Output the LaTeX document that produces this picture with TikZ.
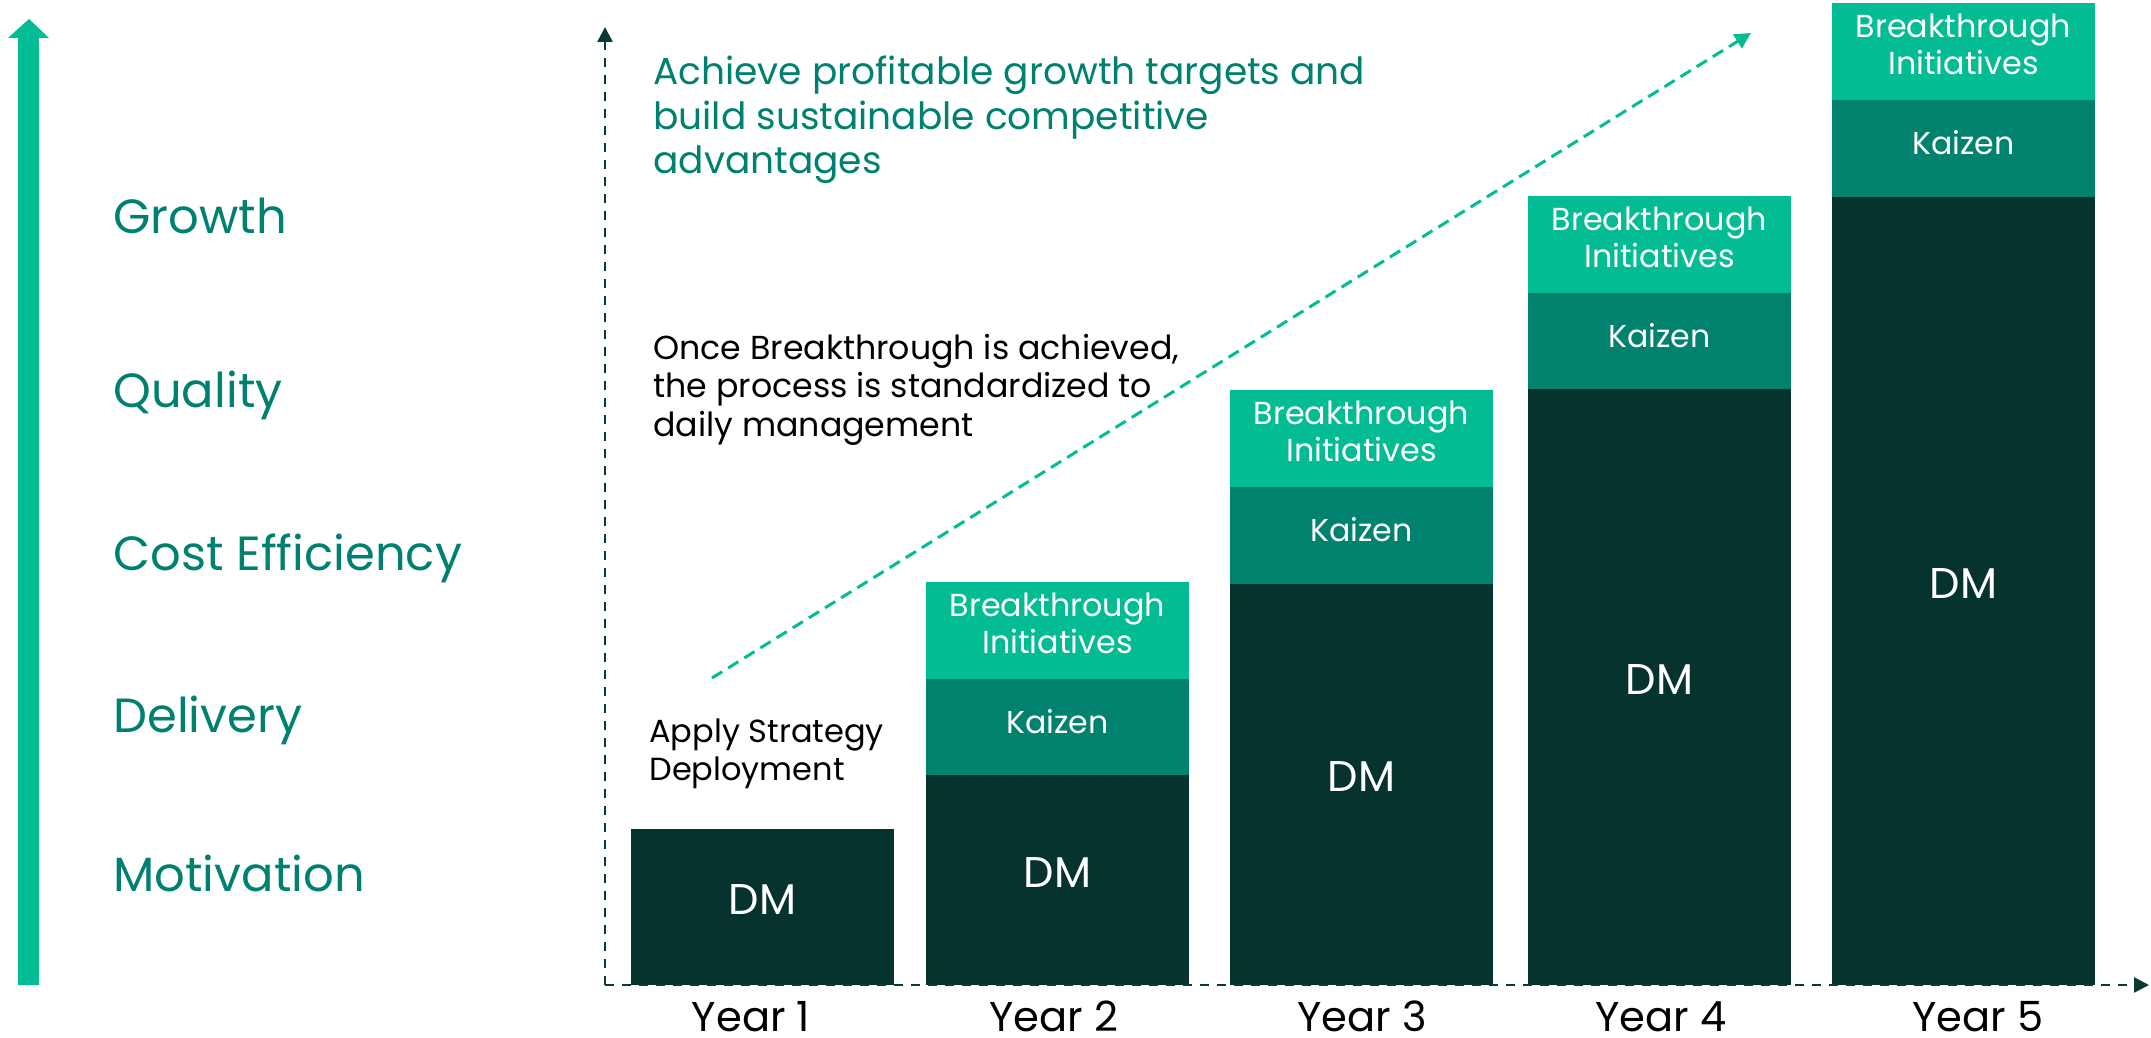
\documentclass[tikz,border=0pt]{standalone}
\usepackage{fontspec}
\setmainfont{Poppins}
\usetikzlibrary{arrows.meta}
\definecolor{brightg}{HTML}{03BC93}
\definecolor{tealg}{HTML}{00826F}
\definecolor{darkg}{HTML}{06332E}
\definecolor{txtg}{HTML}{00806E}
\definecolor{axisc}{HTML}{0B3A35}
\begin{document}
\begin{tikzpicture}[x=0.5pt,y=-0.5pt,
  seg/.style={rectangle, inner sep=0pt, outer sep=0pt, minimum width=131.5pt, anchor=north west},
  bi/.style={seg, fill=brightg, minimum height=48.5pt},
  kz/.style={seg, fill=tealg, minimum height=48.5pt},
  dmseg/.style={seg, fill=darkg},
  bitxt/.style={text=white, font=\fontsize{15.9pt}{18.5pt}\selectfont, align=center, anchor=base, inner sep=0pt, yshift=-11.5pt},
  kztxt/.style={text=white, font=\fontsize{15.8pt}{18.5pt}\selectfont, anchor=base, inner sep=0pt, yshift=-3pt},
  dmtxt/.style={text=white, font=\fontsize{21.5pt}{25pt}\selectfont, anchor=base, inner sep=0pt, yshift=-3.6pt},
  yeartxt/.style={text=black, font=\fontsize{20.8pt}{24pt}\selectfont, anchor=base, inner sep=0pt},
  dimtxt/.style={text=txtg, font=\fontsize{24pt}{28pt}\selectfont, anchor=base west, inner sep=0pt},
  note/.style={text=black, font=\fontsize{16.6pt}{19.2pt}\selectfont, align=left, anchor=base west, inner sep=0pt},
  applynote/.style={text=black, font=\fontsize{16pt}{19pt}\selectfont, align=left, anchor=base west, inner sep=0pt},
  goal/.style={text=txtg, font=\fontsize{18.75pt}{22pt}\selectfont, align=left, anchor=base west, inner sep=0pt},
  axis/.style={draw=axisc, line width=1.25pt, dash pattern=on 4.5pt off 4pt, -{Triangle[width=7.5pt,length=7.5pt]}},
  trend/.style={draw=brightg, line width=1.5pt, dash pattern=on 6pt off 3.5pt, -{Triangle[width=8pt,length=8pt]}}
]
\useasboundingbox (0,0) rectangle (2151,1038);

% left big arrow
\fill[brightg] (18,985) -- (18,38) -- (8,38) -- (29,19) -- (49,38) -- (39,38) -- (39,985) -- cycle;

% dimension labels
\node[dimtxt] (growth) at (113,233) {Growth};
\node[dimtxt] (quality) at (113,407) {Quality};
\node[dimtxt] (cost) at (113,570) {Cost Efficiency};
\node[dimtxt] (delivery) at (113,732) {Delivery};
\node[dimtxt] (motivation) at (113,891) {Motivation};

% bars
\node[dmseg, minimum height=78pt] (y1dm) at (631,829) {};
\node[bi] (y2bi) at (926,582) {};
\node[kz] (y2kz) at (926,679) {};
\node[dmseg, minimum height=105pt] (y2dm) at (926,775) {};
\node[bi] (y3bi) at (1230,390) {};
\node[kz] (y3kz) at (1230,487) {};
\node[dmseg, minimum height=200.5pt] (y3dm) at (1230,584) {};
\node[bi] (y4bi) at (1528,196) {};
\node[kz] (y4kz) at (1528,293) {};
\node[dmseg, minimum height=298pt] (y4dm) at (1528,389) {};
\node[bi] (y5bi) at (1832,3) {};
\node[kz] (y5kz) at (1832,100) {};
\node[dmseg, minimum height=394pt] (y5dm) at (1832,197) {};

% bar labels
\node[dmtxt] (t1dm) at (y1dm.center) {DM};
\node[bitxt] (t2bi) at (y2bi.center) {Breakthrough\\Initiatives};
\node[kztxt] (t2kz) at (y2kz.center) {Kaizen};
\node[dmtxt] (t2dm) at (y2dm.center) {DM};
\node[bitxt] (t3bi) at (y3bi.center) {Breakthrough\\Initiatives};
\node[kztxt] (t3kz) at (y3kz.center) {Kaizen};
\node[dmtxt] (t3dm) at (y3dm.center) {DM};
\node[bitxt] (t4bi) at (y4bi.center) {Breakthrough\\Initiatives};
\node[kztxt] (t4kz) at (y4kz.center) {Kaizen};
\node[dmtxt] (t4dm) at (y4dm.center) {DM};
\node[bitxt] (t5bi) at (y5bi.center) {Breakthrough\\Initiatives};
\node[kztxt] (t5kz) at (y5kz.center) {Kaizen};
\node[dmtxt] (t5dm) at (y5dm.center) {DM};

% year labels
\node[yeartxt] (yr1) at (751,1031) {Year 1};
\node[yeartxt] (yr2) at (1054,1031) {Year 2};
\node[yeartxt] (yr3) at (1362,1031) {Year 3};
\node[yeartxt] (yr4) at (1661,1031) {Year 4};
\node[yeartxt] (yr5) at (1978,1031) {Year 5};

% axes
\coordinate (origin) at (605,985);
\coordinate (ytop) at (605,27);
\coordinate (xend) at (2149,985);
\draw[axis] (origin) -- (ytop);
\draw[axis] (origin) -- (xend);

% trend arrow
\coordinate (trs) at (712,678);
\coordinate (tre) at (1751,33);
\draw[trend] (trs) -- (tre);

% texts (anchor base = baseline of the last line)
\node[goal] (goaltxt) at (653,173) {Achieve profitable growth targets and\\build sustainable competitive\\advantages};
\node[note] (notetxt) at (653,436) {Once Breakthrough is achieved,\\the process is standardized to\\daily management};
\node[applynote] (applytxt) at (649,780) {Apply Strategy\\Deployment};
\end{tikzpicture}
\end{document}
